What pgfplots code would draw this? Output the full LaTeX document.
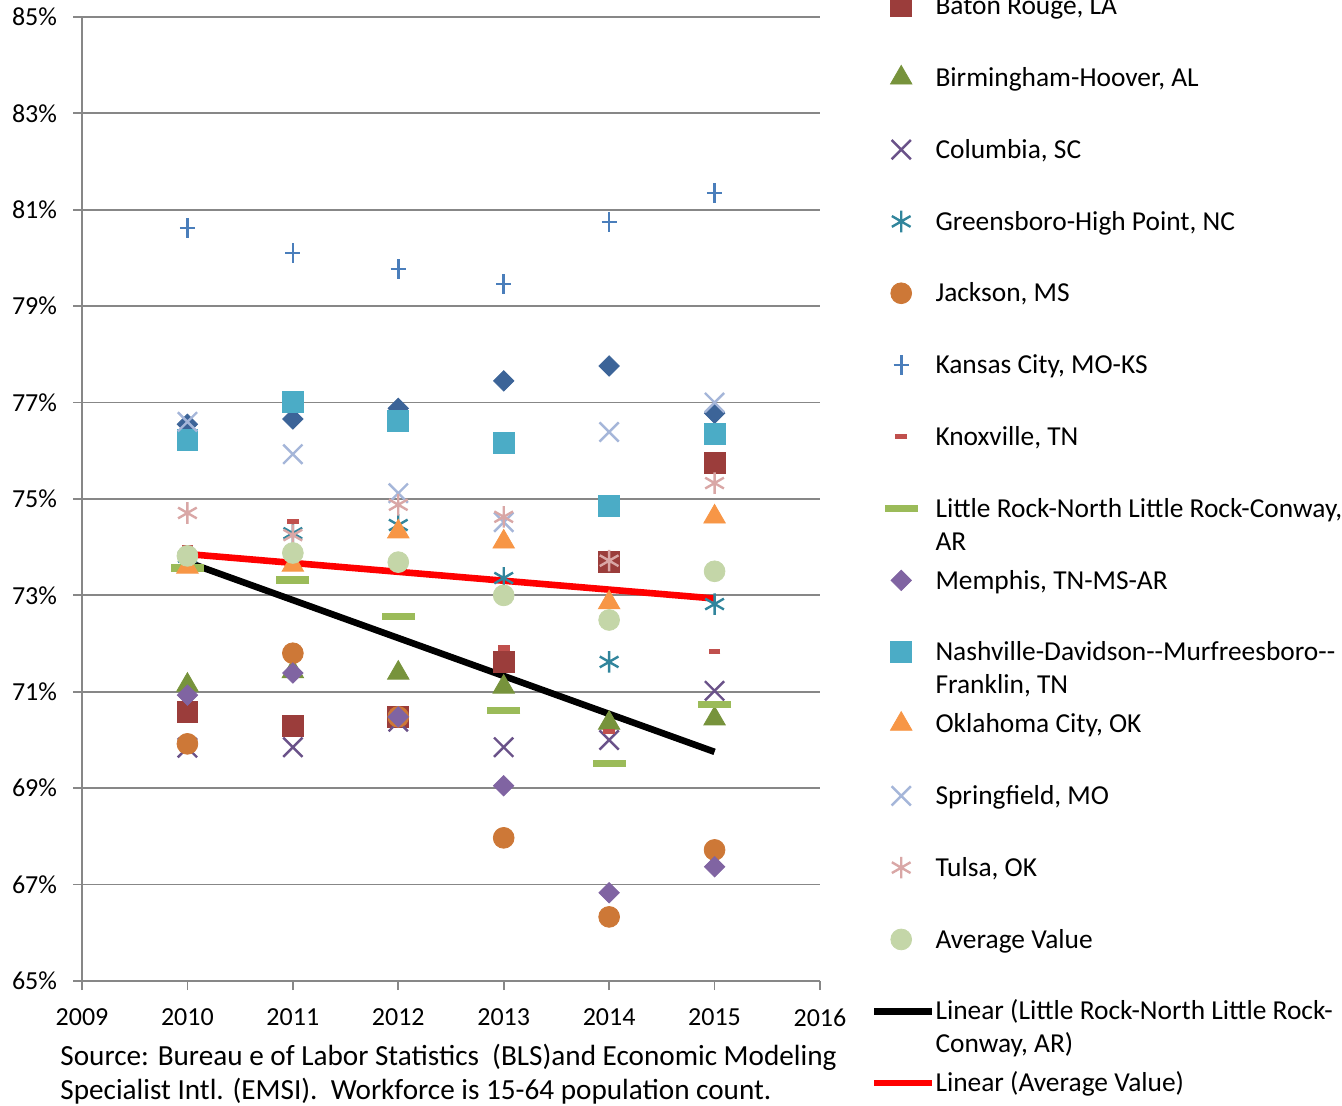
\documentclass[border=0pt]{standalone}
\usepackage{fontspec}
\setmainfont{Carlito}
\usepackage{pgfplots}
\usepackage{pgfplotstable}
\pgfplotsset{compat=1.18}

\definecolor{gridgray}{HTML}{878787}
\definecolor{cfirst}{HTML}{3C6498}
\definecolor{cbaton}{HTML}{9B3D3B}
\definecolor{cbirm}{HTML}{77933C}
\definecolor{ccolum}{HTML}{6A5289}
\definecolor{cgbo}{HTML}{31859C}
\definecolor{cjack}{HTML}{CD7837}
\definecolor{ckc}{HTML}{4A7EBB}
\definecolor{cknox}{HTML}{C0504D}
\definecolor{clittle}{HTML}{9BBB59}
\definecolor{cmemph}{HTML}{8064A2}
\definecolor{cnash}{HTML}{4BACC6}
\definecolor{cokc}{HTML}{F79646}
\definecolor{cspring}{HTML}{A5B6D9}
\definecolor{ctulsa}{HTML}{D9A7A6}
\definecolor{cavg}{HTML}{C4D6A8}

% share of population in workforce, %  (t = years since 2010, for the trend fits)
\pgfplotstableread{
year t first baton birm colum gbo   jack  kc    knox  little memph nash  okc   spring tulsa avg
2010 0 76.55 70.58 71.14 69.84 73.80 69.92 80.62 74.00 73.57 70.93 76.22 73.59 76.60 74.71 73.82
2011 1 76.66 70.29 71.42 69.85 74.29 71.80 80.10 74.54 73.32 71.39 77.01 73.63 75.93 74.25 73.88
2012 2 76.88 70.48 71.39 70.38 74.46 70.48 79.77 73.60 72.57 70.48 76.62 74.32 75.12 74.88 73.69
2013 3 77.45 71.62 71.10 69.85 73.36 67.97 79.46 71.91 70.62 69.05 76.16 74.11 74.52 74.63 73.00
2014 4 77.76 73.69 70.35 70.00 71.62 66.33 80.75 70.17 69.52 66.83 74.85 72.85 76.39 73.72 72.49
2015 5 76.78 75.75 70.44 71.02 72.82 67.72 81.35 71.83 70.73 67.37 76.35 74.63 77.00 75.33 73.50
}\rates

\newcommand\twoline[2]{\vtop{\hbox{#1}\hbox{#2}}}

\begin{document}
\begin{tikzpicture}
\begin{axis}[
    scale only axis,
    width=369pt, height=482pt,
    xmin=2009, xmax=2016, ymin=65, ymax=85,
    xtick={2009,2010,...,2016},
    ytick={65,67,...,85},
    axis lines=left,
    axis line style={-, draw=gridgray, line width=0.9pt},
    ymajorgrids,
    grid style={draw=gridgray, line width=0.9pt},
    tick align=outside,
    major tick length=4.5pt,
    tick style={draw=gridgray, line width=0.9pt},
    /pgf/number format/assume math mode=true,
    /pgf/number format/1000 sep={},
    ticklabel style={font=\fontsize{13}{15}\selectfont},
    xticklabel style={yshift=-6pt},
    yticklabel style={xshift=-4.5pt},
    yticklabel={\pgfmathprintnumber{\tick}\%},
    legend cell align=left,
    legend style={at={(1.069,1.0486)}, anchor=north west, draw=none, fill=none,
        inner sep=0pt, outer sep=0pt, row sep=0pt, column sep=0pt,
        font=\fontsize{13.7}{16.5}\selectfont,
        nodes={inner xsep=0pt, inner ysep=0pt, xshift=-1.5pt, text height=22.25pt, text depth=13.65pt}},
    legend image code/.code={\draw[mark repeat=2,mark phase=2,#1] plot coordinates {(0pt,0pt) (13.5pt,0pt) (29pt,0pt)};},
]
\addplot[only marks, mark=square*, mark size=3.6pt, color=cfirst, mark options={rotate=45}, forget plot] table[x=year,y=first]{\rates};
\addplot[only marks, mark=square*, mark size=5.2pt, color=cbaton] table[x=year,y=baton]{\rates};
\addlegendentry{Baton Rouge, LA}
\addplot[only marks, mark=triangle*, mark size=6.2pt, color=cbirm] table[x=year,y=birm]{\rates};
\addlegendentry{Birmingham-Hoover, AL}
\addplot[only marks, mark=x, mark size=6.8pt, color=ccolum, mark options={line width=1.2pt}] table[x=year,y=colum]{\rates};
\addlegendentry{Columbia, SC}
\addplot[only marks, mark=asterisk, mark size=5.4pt, color=cgbo, mark options={line width=1.2pt}] table[x=year,y=gbo]{\rates};
\addlegendentry{Greensboro-High Point, NC}
\addplot[only marks, mark=*, mark size=5.2pt, color=cjack] table[x=year,y=jack]{\rates};
\addlegendentry{Jackson, MS}
\addplot[only marks, mark=+, mark size=3.8pt, color=ckc, mark options={line width=1.3pt, yscale=1.3}] table[x=year,y=kc]{\rates};
\addlegendentry{Kansas City, MO-KS}
\addplot[only marks, mark=-, mark size=2.9pt, color=cknox, mark options={line width=2.6pt}] table[x=year,y=knox]{\rates};
\addlegendentry{Knoxville, TN}
\addplot[only marks, mark=-, mark size=8.3pt, color=clittle, mark options={line width=3.6pt}] table[x=year,y=little]{\rates};
\addlegendentry{\twoline{Little Rock-North Little Rock-Conway,}{AR}}
\addplot[only marks, mark=square*, mark size=3.6pt, color=cmemph, mark options={rotate=45}] table[x=year,y=memph]{\rates};
\addlegendentry{Memphis, TN-MS-AR}
\addplot[only marks, mark=square*, mark size=5.2pt, color=cnash] table[x=year,y=nash]{\rates};
\addlegendentry{\twoline{Nashville-Davidson-{}-Murfreesboro-{}-}{Franklin, TN}}
\addplot[only marks, mark=triangle*, mark size=6.2pt, color=cokc] table[x=year,y=okc]{\rates};
\addlegendentry{Oklahoma City, OK}
\addplot[only marks, mark=x, mark size=6.8pt, color=cspring, mark options={line width=1.2pt}] table[x=year,y=spring]{\rates};
\addlegendentry{Springfield, MO}
\addplot[only marks, mark=asterisk, mark size=5.4pt, color=ctulsa, mark options={line width=1.2pt}] table[x=year,y=tulsa]{\rates};
\addlegendentry{Tulsa, OK}
\addplot[only marks, mark=*, mark size=5.2pt, color=cavg] table[x=year,y=avg]{\rates};
\addlegendentry{Average Value}
\addplot[black, line width=3.3pt, no marks] table[x=year, y={create col/linear regression={x=t, y=little}}]{\rates};
\addlegendentry{\twoline{Linear (Little Rock-North Little Rock-}{Conway, AR)}}
\addplot[red, line width=3.3pt, no marks] table[x=year, y={create col/linear regression={x=t, y=avg}}]{\rates};
\addlegendentry{Linear (Average Value)}
\end{axis}
\node[anchor=base west, inner sep=0pt, font=\fontsize{14.6}{17}\selectfont] at (-11pt,-42.5pt)
  {\vtop{\hbox{Source: Bureau e of Labor Statistics\ \ (BLS)and Economic Modeling}\hbox{Specialist Intl. (EMSI).\ \ Workforce is 15-64 population count.}}};
\pgfresetboundingbox
\useasboundingbox (-41pt,-62.5pt) rectangle (630pt,490.5pt);
\end{tikzpicture}
\end{document}
